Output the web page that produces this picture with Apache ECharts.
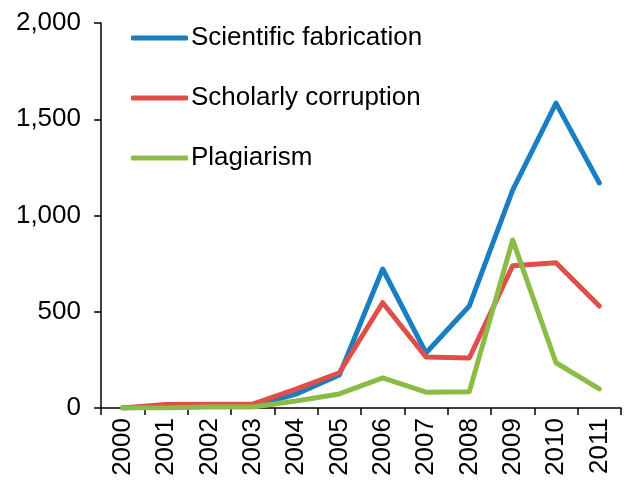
<!DOCTYPE html>
<html>
<head>
<meta charset="utf-8">
<script src="https://cdn.jsdelivr.net/npm/echarts@6/dist/echarts.min.js"></script>
<style>
  html, body { margin: 0; padding: 0; background: #fff; }
  #chart { width: 637px; height: 485px; }
</style>
</head>
<body>
<div id="chart"></div>
<script>
// 数据
var years = ['2000', '2001', '2002', '2003', '2004', '2005', '2006', '2007', '2008', '2009', '2010', '2011']
var fabrication = [0, 8, 10, 10, 72, 171, 722, 286, 530, 1132, 1584, 1169]
var corruption = [0, 18, 20, 20, 98, 183, 547, 265, 260, 739, 755, 530]
var plagiarism = [0, 0, 5, 5, 36, 73, 156, 82, 85, 873, 235, 99]
var yTicks = [0, 500, 1000, 1500, 2000]

var chart = echarts.init(document.getElementById('chart'))
var font = 'Liberation Sans, Arial, sans-serif'

function lineSeries (name, color, data) {
  return {
    name: name,
    type: 'line',
    data: data,
    symbol: 'none',
    lineStyle: { color: color, width: 5, cap: 'round', join: 'round' },
    itemStyle: { color: color }
  }
}

var option = {
  animation: false,
  textStyle: { fontFamily: font },
  grid: { left: 101, top: 23, right: 16, bottom: 77 },
  legend: {
    orient: 'vertical',
    left: 126,
    top: 20,
    icon: 'roundRect',
    itemWidth: 57,
    itemHeight: 5,
    itemGap: 34,
    textStyle: { fontFamily: font, fontSize: 26, lineHeight: 26, color: '#000', padding: [0, 0, 0, -2] },
    data: ['Scientific fabrication', 'Scholarly corruption', 'Plagiarism']
  },
  xAxis: {
    type: 'category',
    data: years,
    boundaryGap: true,
    axisLine: { lineStyle: { color: '#000', width: 1.5 } },
    axisTick: { show: true, length: 7, lineStyle: { color: '#000', width: 1.5 } },
    axisLabel: { rotate: 90, fontSize: 26, color: '#000', margin: 10, fontFamily: font }
  },
  yAxis: {
    type: 'value',
    min: yTicks[0],
    max: yTicks[yTicks.length - 1],
    interval: 500,
    splitLine: { show: false },
    axisLine: { show: true, lineStyle: { color: '#000', width: 1.5 } },
    axisTick: { show: true, length: 7, lineStyle: { color: '#000', width: 1.5 } },
    axisLabel: {
      fontSize: 26,
      color: '#000',
      margin: 20,
      fontFamily: font,
      formatter: function (v) { return v.toLocaleString('en-US') }
    }
  },
  series: [
    lineSeries('Scientific fabrication', '#1a7fc1', fabrication),
    lineSeries('Scholarly corruption', '#e04e4a', corruption),
    lineSeries('Plagiarism', '#8cbb47', plagiarism)
  ]
}
chart.setOption(option)
</script>
</body>
</html>
